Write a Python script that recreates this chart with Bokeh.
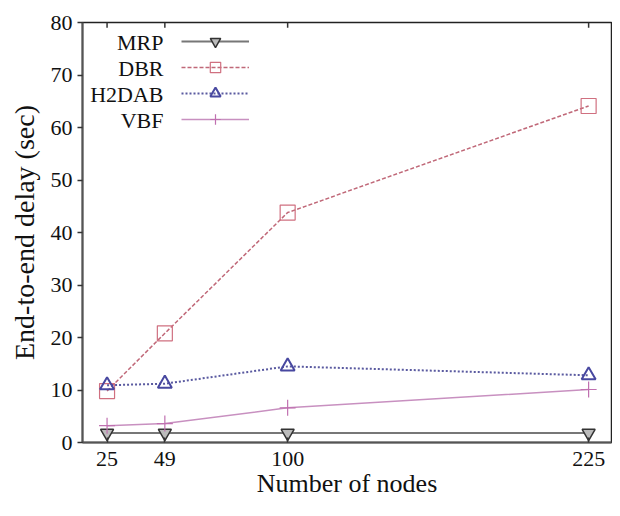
from bokeh.plotting import figure
from bokeh.models import Range1d, FixedTicker, Legend, LegendItem, Label
from bokeh.embed import file_html
from bokeh.resources import INLINE

nodes = [25, 49, 100, 225]
series_names = ["MRP", "DBR", "H2DAB", "VBF"]
mrp = [1.8, 1.8, 1.8, 1.8]
dbr = [9.8, 20.8, 43.8, 64.1]
h2dab = [10.9, 11.2, 14.5, 12.8]
vbf = [3.2, 3.6, 6.6, 10.1]
y_ticks = [0, 10, 20, 30, 40, 50, 60, 70, 80]

FONT = "Liberation Serif"
X_MIN, X_MAX = 14.8, 234.5
Y_MIN, Y_MAX = 0, 80

p = figure(width=612, height=500, output_backend="svg", toolbar_location=None,
           x_range=Range1d(X_MIN, X_MAX), y_range=Range1d(Y_MIN, Y_MAX),
           min_border_left=82, min_border_right=1, min_border_top=22, min_border_bottom=54)
p.background_fill_color = "white"
p.border_fill_color = "white"
p.grid.visible = False
p.outline_line_color = "#222222"
p.outline_line_width = 1.5

p.xaxis.ticker = FixedTicker(ticks=nodes)
p.yaxis.ticker = FixedTicker(ticks=y_ticks)
for ax in [p.xaxis[0], p.yaxis[0]]:
    ax.major_label_text_font = FONT
    ax.major_label_text_font_size = "22px"
    ax.major_label_text_color = "#111111"
    ax.axis_label_text_font = FONT
    ax.axis_label_text_font_style = "normal"
    ax.axis_label_text_color = "#111111"
    ax.minor_tick_line_color = None
    ax.axis_line_color = "#555555"
    ax.axis_line_width = 2
    ax.major_tick_line_color = "#333333"
    ax.major_tick_line_width = 1.5

p.xaxis.axis_label = "Number of nodes"
p.yaxis.axis_label = "End-to-end delay (sec)"
p.xaxis.axis_label_text_font_size = "26px"
p.yaxis.axis_label_text_font_size = "28px"
p.xaxis.major_tick_in = 5
p.xaxis.major_tick_out = 0
p.xaxis.major_label_standoff = 9
p.xaxis.axis_label_standoff = 0
p.yaxis.major_tick_in = 0
p.yaxis.major_tick_out = 5
p.yaxis.major_label_standoff = 5
p.yaxis.axis_label_standoff = 8

# mirrored tick marks along the top border (same positions as the bottom ticks)
p.segment(x0=nodes, y0=[Y_MAX] * len(nodes), x1=nodes, y1=[Y_MAX - 1.0] * len(nodes),
          line_color="#333333", line_width=1.5)

# MRP
l1 = p.line(nodes, mrp, line_color="#777777", line_width=2)
m1 = p.scatter(nodes, mrp, marker="inverted_triangle", size=13, line_color="#333333",
               fill_color="#bbbbbb", line_width=1.5)
# DBR
l2 = p.line(nodes, dbr, line_color="#c06878", line_width=1.5, line_dash="4 2")
m2 = p.scatter(nodes, dbr, marker="square", size=15, line_color="#d07080",
               fill_color=None, line_width=1.2)
# H2DAB
l3 = p.line(nodes, h2dab, line_color="#5a5aa0", line_width=2, line_dash="2 2")
m3 = p.scatter(nodes, h2dab, marker="triangle", size=14, line_color="#4848a0",
               fill_color=None, line_width=2)
# VBF
l4 = p.line(nodes, vbf, line_color="#c890c0", line_width=1.5)
m4 = p.scatter(nodes, vbf, marker="cross", size=16, line_color="#c070b0", line_width=1.2)

# gnuplot-style key: sample lines from a Legend, right-aligned names to their left
renderers = [[l1, m1], [l2, m2], [l3, m3], [l4, m4]]
items = [LegendItem(label="", renderers=r) for r in renderers]
legend = Legend(items=items, location=(99, 310), padding=0, margin=0, spacing=0,
                glyph_width=68, glyph_height=26, label_width=0, label_standoff=0,
                label_text_font_size="22px", border_line_alpha=0, background_fill_alpha=0)
p.add_layout(legend, "center")

label_y = [400, 374, 348, 322]
for name, ly in zip(series_names, label_y):
    p.add_layout(Label(x=81, y=ly, x_units="screen", y_units="screen", text=name,
                       text_align="right", text_baseline="middle", text_font=FONT,
                       text_font_size="22px", text_color="#111111"))

open("out.html", "w").write(file_html(p, INLINE))
